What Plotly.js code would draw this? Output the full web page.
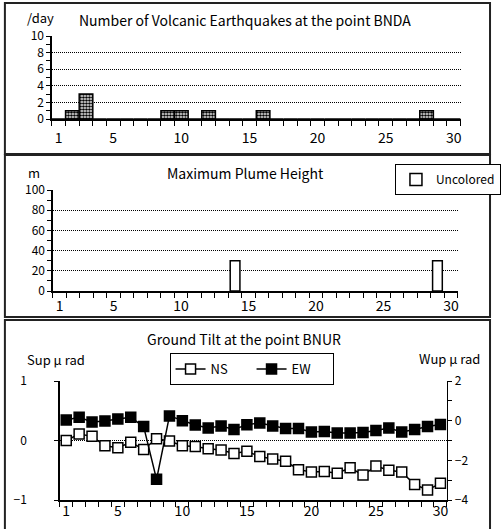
<!DOCTYPE html>
<html>
<head>
<meta charset="utf-8">
<script src="https://cdn.plot.ly/plotly-3.0.1.min.js"></script>
<style>
html,body{margin:0;padding:0;background:#fff;}
#chart{width:501px;height:529px;}
</style>
</head>
<body>
<div id="chart"></div>
<script>
// ---------- data ----------
const days = Array.from({length: 30}, (_, i) => i + 1);
const xTickVals = [1, 5, 10, 15, 20, 25, 30];
const quakes = [0,1,3,0,0,0,0,0,1,1,0,1,0,0,0,1,0,0,0,0,0,0,0,0,0,0,0,1,0,0];
const plume  = [null,null,null,null,null,null,null,null,null,null,null,null,null,30,null,
                null,null,null,null,null,null,null,null,null,null,null,null,null,30,null];
const tiltNS = [0.00,0.11,0.07,-0.09,-0.12,-0.03,-0.15,0.03,-0.01,-0.09,-0.10,-0.14,-0.16,-0.22,-0.18,
                -0.27,-0.31,-0.35,-0.49,-0.53,-0.52,-0.55,-0.46,-0.58,-0.43,-0.50,-0.53,-0.74,-0.83,-0.72];
const tiltEW = [0.03,0.17,-0.07,-0.02,0.08,0.17,-0.30,-2.96,0.24,0.00,-0.22,-0.37,-0.27,-0.44,-0.20,
                -0.12,-0.27,-0.40,-0.40,-0.57,-0.55,-0.62,-0.62,-0.60,-0.49,-0.37,-0.57,-0.45,-0.29,-0.19];
const titles = {
  quake: "Number of Volcanic Earthquakes at the point BNDA",
  plume: "Maximum Plume Height",
  tilt: "Ground Tilt at the point BNUR"
};

// ---------- layout helpers ----------
const W = 501, H = 529;
const px = v => v / W;
const py = v => 1 - v / H;
const FONT = '"Noto Sans CJK JP", "Noto Sans", sans-serif';

function xAxis(x0, x1, anchor, standoff) {
  return {
    domain: [px(x0), px(x1)], anchor: anchor,
    range: [0.5, 30.5], tickvals: xTickVals, ticks: '',
    ticklabelstandoff: standoff,
    minor: {ticks: 'outside', tick0: 0.5, dtick: 1, ticklen: 5, tickcolor: '#000', tickwidth: 1, showgrid: false},
    showline: true, linecolor: '#000', linewidth: 1.5,
    showgrid: false, zeroline: false, fixedrange: true,
    tickfont: {family: FONT, size: 14, color: '#000'}
  };
}
function yAxis(y0, y1, anchor, range, dtick, minorDtick, extra) {
  const a = {
    domain: [py(y1), py(y0)], anchor: anchor, range: range, dtick: dtick,
    ticks: 'outside', ticklen: 4, tickcolor: '#000', tickwidth: 1,
    showline: true, linecolor: '#000', linewidth: 1.5,
    showgrid: true, gridcolor: '#000', gridwidth: 1, griddash: '1px,1px',
    zeroline: false, fixedrange: true,
    tickfont: {family: FONT, size: 12, color: '#000'}
  };
  if (minorDtick) a.minor = {ticks: 'outside', dtick: minorDtick, ticklen: 4, tickcolor: '#000', showgrid: false};
  return Object.assign(a, extra || {});
}

const traces = [
  {
    type: 'bar', x: days, y: quakes, xaxis: 'x', yaxis: 'y', width: 1,
    showlegend: false, name: 'Earthquakes',
    marker: {color: '#fff', line: {color: '#000', width: 1.5},
             pattern: {shape: '.', fgcolor: '#000', bgcolor: '#fff', size: 3, solidity: 0.6}}
  },
  {
    type: 'bar', x: days, y: plume, xaxis: 'x2', yaxis: 'y2', width: 0.72,
    name: 'Uncolored', legend: 'legend2', showlegend: true,
    marker: {color: '#fff', line: {color: '#000', width: 1.5}}
  },
  {
    type: 'scatter', mode: 'lines+markers', x: days, y: tiltNS, xaxis: 'x3', yaxis: 'y3',
    name: 'NS', legend: 'legend',
    line: {color: '#000', width: 1.5},
    marker: {symbol: 'square', size: 10, color: '#fff', line: {color: '#000', width: 1.5}}
  },
  {
    type: 'scatter', mode: 'lines+markers', x: days, y: tiltEW, xaxis: 'x3', yaxis: 'y4',
    name: 'EW', legend: 'legend',
    line: {color: '#000', width: 1.5},
    marker: {symbol: 'square', size: 10, color: '#000', line: {color: '#000', width: 1.5}}
  }
];

function ann(text, x, y, size) {
  return {text: text, x: px(x), y: py(y), xref: 'paper', yref: 'paper',
          xanchor: 'center', yanchor: 'middle', showarrow: false,
          font: {family: FONT, size: size, color: '#000'}};
}
function box(x0, y0, x1, y1) {
  return {type: 'rect', xref: 'paper', yref: 'paper',
          x0: px(x0), x1: px(x1), y0: py(y1), y1: py(y0),
          line: {color: '#222', width: 2}, fillcolor: 'rgba(0,0,0,0)', layer: 'below'};
}

const layout = {
  width: W, height: H, margin: {l: 0, r: 0, t: 0, b: 0},
  paper_bgcolor: '#fff', plot_bgcolor: 'rgba(0,0,0,0)',
  font: {family: FONT, size: 13, color: '#000'},
  bargap: 0, barmode: 'overlay',
  xaxis: xAxis(53, 470, 'y', 6),
  yaxis: yAxis(36, 119, 'x', [0, 10], 2, 1),
  xaxis2: xAxis(54, 467, 'y2', 2),
  yaxis2: yAxis(190, 291, 'x2', [0, 100], 20, 10),
  xaxis3: xAxis(61, 456, 'y3', -2),
  yaxis3: yAxis(381, 500, 'x3', [-1, 1], 1, null, {ticklabelstandoff: 25}),
  yaxis4: yAxis(381, 500, 'x3', [-4, 2], 2, 1,
                {overlaying: 'y3', side: 'right', showgrid: false, anchor: 'x3'}),
  legend: {x: px(173), y: py(353), xanchor: 'left', yanchor: 'top', orientation: 'h',
           bgcolor: '#fff', bordercolor: '#000', borderwidth: 1, entrywidth: 36,
           font: {family: FONT, size: 13, color: '#000'}},
  legend2: {x: px(403), y: py(164), xanchor: 'left', yanchor: 'top', orientation: 'h',
            bgcolor: '#fff', bordercolor: '#000', borderwidth: 1, itemwidth: 30,
            font: {family: FONT, size: 12, color: '#000'}},
  annotations: [
    ann('/day', 41.5, 18, 13),
    ann(titles.quake, 250, 20, 14),
    ann('m', 35, 172, 13),
    ann(titles.plume, 250, 173, 14),
    ann(titles.tilt, 249, 339, 14),
    ann('Sup μ rad', 57, 359, 13),
    ann('Wup μ rad', 459, 358, 13)
  ],
  shapes: [
    box(5, 3, 500, 154),
    box(5, 155, 500, 317),
    box(5, 320, 500, 530)
  ]
};

Plotly.newPlot('chart', traces, layout, {displayModeBar: false, staticPlot: true});
</script>
</body>
</html>
